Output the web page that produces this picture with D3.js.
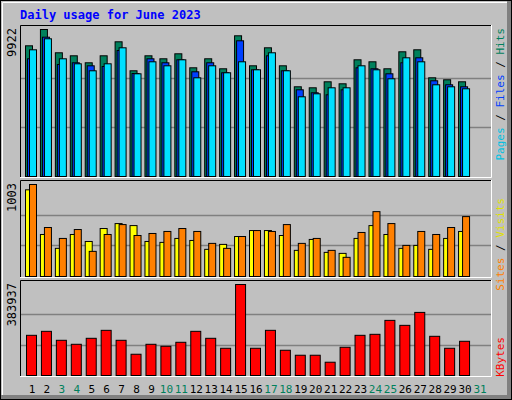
<!DOCTYPE html>
<html>
<head>
<meta charset="utf-8">
<script src="https://cdn.jsdelivr.net/npm/d3@7"></script>
<style>
  body { margin: 0; background: #fff; }
  text { font-family: "DejaVu Sans Mono", monospace; }
</style>
</head>
<body>
<svg id="chart" width="512" height="400"></svg>
<script>
// daily values, June 2023
const days = d3.range(1, 32);
const weekend = [3, 4, 10, 11, 17, 18, 24, 25, 31];
const hits = [8822, 9922, 8350, 8147, 7675, 8147, 9092, 7135, 8147, 7945, 8282, 7337, 7945, 7270, 9497,
  7472, 8687, 7472, 6055, 5987, 6392, 6257, 7877, 7742, 7270, 8417, 8552, 6662, 6527, 6392];
const files = [7945, 9403, 7560, 7675, 7472, 7425, 8505, 6952, 7945, 7675, 7877, 7067, 7675, 7000, 9160,
  7202, 8147, 7135, 5852, 5650, 5515, 5852, 7337, 7270, 6932, 7675, 8012, 6460, 6190, 6055];
const pages = [8552, 9295, 7945, 7607, 7135, 7607, 8687, 6932, 7742, 7472, 7877, 6662, 7472, 7000, 7742,
  7202, 8350, 7135, 5380, 5582, 5987, 5987, 7472, 7202, 6595, 8012, 7742, 6190, 6055, 5920];
const visits = [945, 458, 307, 458, 382, 523, 577, 555, 382, 372, 415, 393, 296, 350, 436,
  501, 501, 447, 285, 404, 263, 252, 415, 555, 458, 307, 339, 296, 415, 491];
const sites = [1003, 534, 415, 512, 274, 458, 566, 447, 469, 491, 523, 491, 361, 307, 436,
  501, 491, 566, 361, 415, 285, 209, 480, 707, 577, 339, 491, 458, 534, 653];
const kbytes = [169545, 186360, 148527, 131713, 156934, 190563, 148527, 89677, 131713, 123306, 140120, 186360,
  156934, 114898, 383937, 114898, 190563, 106491, 85473, 85473, 56048, 119102, 169545, 173749, 232599,
  211581, 266228, 165342, 114898, 144324];

const svg = d3.select("#chart");
const W = 512, H = 400;

// frame
svg.append("rect").attr("width", W).attr("height", H).attr("fill", "#c0c0c0");
svg.append("rect").attr("x", 507).attr("y", 0).attr("width", 5).attr("height", H).attr("fill", "#808080");
svg.append("rect").attr("x", 0).attr("y", 395).attr("width", W).attr("height", 5).attr("fill", "#808080");
svg.append("rect").attr("x", 0.5).attr("y", 0.5).attr("width", W - 1).attr("height", H - 1)
  .attr("fill", "none").attr("stroke", "#000");
svg.append("path").attr("d", "M2.5,395V2.5H507").attr("fill", "none").attr("stroke", "#fff");

svg.append("text").attr("x", 20).attr("y", 19).attr("fill", "#0000ff")
  .attr("font-size", 12).attr("font-weight", "bold").text("Daily usage for June 2023");

const x = d3.scaleLinear().domain([1, 31]).range([25, 473]);
const L = 20, R = 491;

function panel(top, bottom, max, label) {
  svg.append("rect").attr("x", L).attr("y", top).attr("width", R - L).attr("height", bottom - top)
    .attr("fill", "#c0c0c0");
  svg.append("path").attr("d", `M${L + 0.5},${bottom}V${top + 0.5}H${R}`).attr("fill", "none").attr("stroke", "#000");
  svg.append("path").attr("d", `M${L},${bottom + 0.5}H${R + 0.5}V${top}`).attr("fill", "none").attr("stroke", "#fff");
  const y = d3.scaleLinear().domain([0, max]).range([bottom - 1, top + 4]);
  [1 / 3, 2 / 3].forEach(f => {
    svg.append("line").attr("x1", L + 1).attr("x2", R).attr("y1", Math.round(y(max * f)) + 0.5)
      .attr("y2", Math.round(y(max * f)) + 0.5).attr("stroke", "#808080").attr("stroke-width", 1.5);
  });
  svg.append("text").attr("transform", `translate(16,${top + 3}) rotate(-90)`)
    .attr("text-anchor", "end").attr("font-size", 12).attr("fill", "#000").text(label);
  return y;
}

function bars(data, y, dx, w, color) {
  svg.append("g").selectAll("rect").data(data).join("rect")
    .attr("x", (d, i) => x(i + 1) + dx + 0.5)
    .attr("y", d => y(d) + 0.5)
    .attr("width", w)
    .attr("height", d => y(0) - y(d))
    .attr("fill", color).attr("stroke", "#000").attr("stroke-width", 1);
}

function sideLabel(top, parts) {
  const t = svg.append("text").attr("transform", `translate(504,${top}) rotate(-90)`)
    .attr("text-anchor", "end").attr("font-size", 11);
  parts.forEach(([s, c]) => t.append("tspan").attr("fill", c).text(s));
}

// top panel
const y1 = panel(25, 177, 9922, "9922");
bars(hits, y1, 0, 7, "#00805c");
bars(files, y1, 2, 7, "#0040ff");
bars(pages, y1, 4, 7, "#00e0ff");
sideLabel(28, [["Pages", "#00c0e0"], [" / ", "#000"], ["Files", "#0040ff"], [" / ", "#000"], ["Hits", "#00805c"]]);

// middle panel
const y2 = panel(180, 277, 1003, "1003");
bars(visits, y2, 0, 7, "#ffff00");
bars(sites, y2, 4, 7, "#ff8000");
sideLabel(198, [["Sites", "#ff8000"], [" / ", "#000"], ["Visits", "#e0e000"]]);

// bottom panel
const y3 = panel(280, 376, 383937, "383937");
bars(kbytes, y3, 1, 10, "#ff0000");
sideLabel(337, [["KBytes", "#ff0000"]]);

// day labels
svg.append("g").selectAll("text").data(days).join("text")
  .attr("x", d => x(d) + 7).attr("y", 393).attr("text-anchor", "middle").attr("font-size", 11)
  .attr("fill", d => weekend.includes(d) ? "#00805c" : "#000").text(d => d);
</script>
</body>
</html>
